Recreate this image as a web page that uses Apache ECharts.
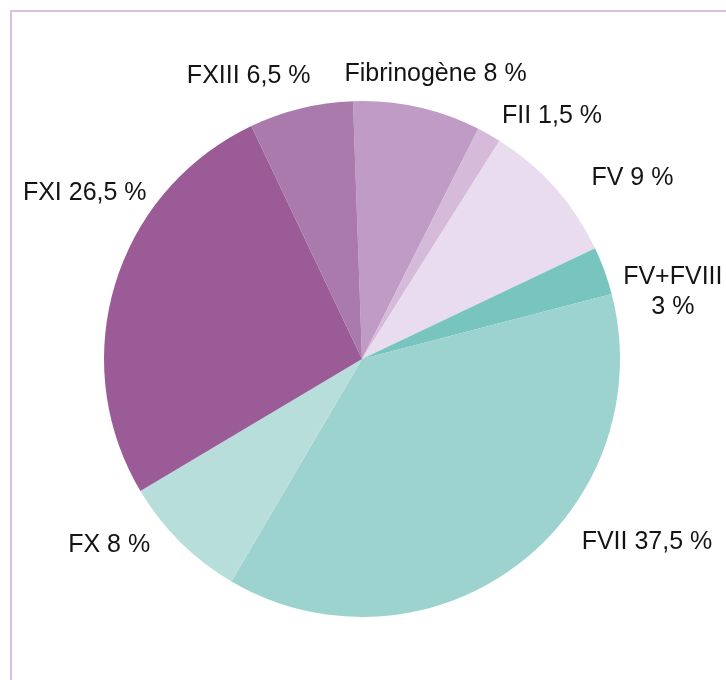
<!DOCTYPE html>
<html>
<head>
<meta charset="utf-8">
<script src="https://cdn.jsdelivr.net/npm/echarts@6.0.0/dist/echarts.min.js"></script>
<style>
  html, body { margin: 0; padding: 0; background: #fff; }
  #frame {
    position: absolute; left: 10px; top: 10px; width: 716px; height: 670px;
    border-left: 2px solid #d8c1dc; border-top: 2px solid #d8c1dc;
  }
  #chart { position: absolute; left: 0; top: 0; width: 726px; height: 680px; }
</style>
</head>
<body>
<div id="frame"></div>
<div id="chart"></div>
<script>
// share of cases per deficient factor (%), clockwise from 12 o'clock
const factors = ['Fibrinogène', 'FII', 'FV', 'FV+FVIII', 'FVII', 'FX', 'FXI', 'FXIII']
const shares = [8, 1.5, 9, 3, 37.5, 8, 26.5, 6.5]
const labels = ['Fibrinogène 8 %', 'FII 1,5 %', 'FV 9 %', 'FV+FVIII\n3 %', 'FVII 37,5 %', 'FX 8 %', 'FXI 26,5 %', 'FXIII 6,5 %']

const colors = ['#bf9bc5', '#d5bbd9', '#e8dcee', '#78c5bf', '#9cd3ce', '#b8dedc', '#9b5b97', '#a97aab']

// hand nudges so labels sit where the original puts them
const nudges = [
  { dx: -80, dy: -23 },
  { dx: 3, dy: -10 },
  { dx: 24, dy: -3 },
  { dx: 54, dy: 25, align: 'center' },
  { dx: 53, dy: -31 },
  { dx: -18, dy: -4 },
  { dx: 46, dy: -88 },
  { dx: 17, dy: -23 },
]

const chart = echarts.init(document.getElementById('chart'))

chart.setOption({
  animation: false,
  color: colors,
  series: [{
    type: 'pie',
    center: [362, 359],
    radius: 258,
    startAngle: 92,
    clockwise: true,
    avoidLabelOverlap: false,
    itemStyle: { borderWidth: 0 },
    emphasis: { disabled: true },
    label: {
      position: 'outside',
      distanceToLabelLine: 5,
      fontFamily: 'Liberation Sans, Arial, sans-serif',
      fontSize: 25,
      lineHeight: 30,
      color: '#141414',
      formatter: p => labels[p.dataIndex],
    },
    labelLine: { show: false, length: 10, length2: 0 },
    labelLayout: p => nudges[p.dataIndex],
    data: factors.map((name, i) => ({ name, value: shares[i] })),
  }],
})
</script>
</body>
</html>
